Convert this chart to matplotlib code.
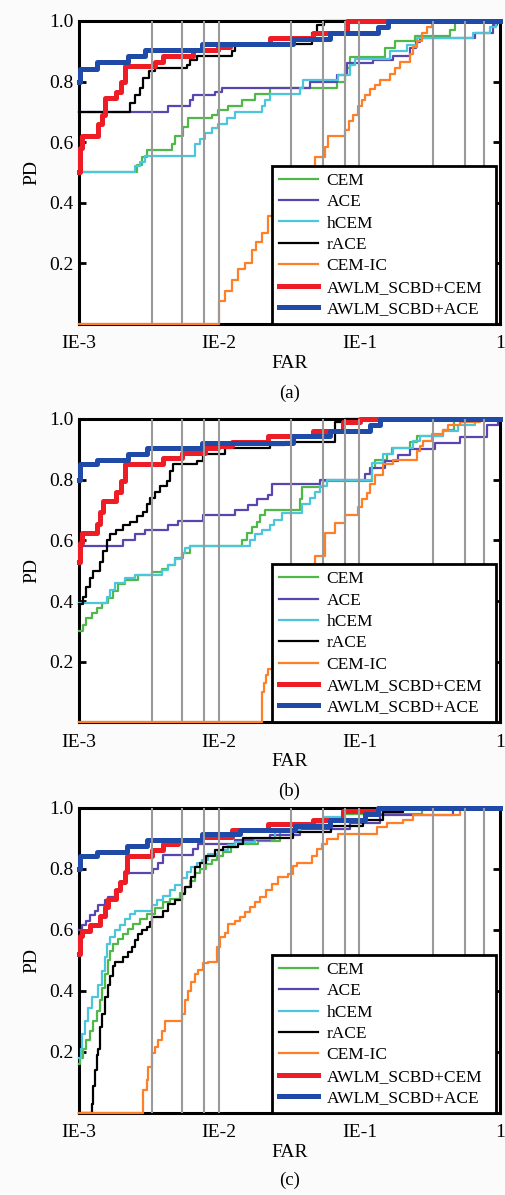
import matplotlib
matplotlib.use('Agg')
import matplotlib.pyplot as plt
from matplotlib.ticker import NullLocator

# ---- panel (a) ----
A_CEM_FAR = [1e-3, 2.58e-3, 2.8e-3, 3.04e-3, 4.57e-3, 4.83e-3, 5.54e-3, 6.01e-3, 8.81e-3, 9.84e-3, 0.0115, 0.0145,
             0.018, 0.023, 0.069, 0.079, 0.085, 0.152, 0.178, 0.249, 0.44, 0.48, 1.0]
A_CEM_PD = [0.50, 0.525, 0.55, 0.575, 0.595, 0.62, 0.65, 0.68, 0.69, 0.705, 0.72, 0.74, 0.76, 0.78, 0.80, 0.845,
            0.88, 0.91, 0.935, 0.95, 0.97, 1.0, 1.0]
A_ACE_FAR = [1e-3, 4.33e-3, 6.18e-3, 6.53e-3, 9.3e-3, 0.0104, 0.0443, 0.069, 0.081, 0.124, 0.173, 0.229, 0.252,
             0.27, 0.665, 0.893, 0.95, 1.0]
A_ACE_PD = [0.70, 0.72, 0.74, 0.755, 0.765, 0.78, 0.80, 0.82, 0.86, 0.87, 0.885, 0.91, 0.93, 0.945, 0.96, 0.985,
            1.0, 1.0]
A_HCEM_FAR = [1e-3, 2.51e-3, 2.72e-3, 2.95e-3, 6.71e-3, 7.3e-3, 7.91e-3, 8.81e-3, 9.84e-3, 0.01135, 0.0129, 0.0202,
              0.0211, 0.023, 0.0376, 0.0396, 0.0702, 0.085, 0.0925, 0.165, 0.218, 0.256, 0.643, 0.85, 0.93, 1.0]
A_HCEM_PD = [0.50, 0.52, 0.535, 0.555, 0.595, 0.61, 0.63, 0.645, 0.66, 0.68, 0.70, 0.72, 0.74, 0.76, 0.78, 0.805,
             0.82, 0.855, 0.875, 0.90, 0.92, 0.945, 0.96, 0.98, 1.0, 1.0]
A_RACE_FAR = [1e-3, 2.31e-3, 2.51e-3, 2.72e-3, 2.88e-3, 3.16e-3, 3.48e-3, 5.85e-3, 6.18e-3, 6.89e-3, 0.01225, 0.013,
              0.0457, 0.050, 0.056, 1.0]
A_RACE_PD = [0.70, 0.73, 0.755, 0.78, 0.81, 0.835, 0.845, 0.855, 0.87, 0.885, 0.90, 0.925, 0.96, 0.985, 1.0, 1.0]
A_CEMIC_FAR = [1e-3, 0.01, 0.011, 0.0123, 0.0137, 0.0152, 0.017, 0.0184, 0.020, 0.0224, 0.026, 0.032, 0.040, 0.048,
               0.0566, 0.0595, 0.0786, 0.084, 0.0895, 0.097, 0.104, 0.109, 0.118, 0.128, 0.139, 0.164, 0.178, 0.193,
               0.228, 0.24, 0.256, 0.278, 0.30, 0.33, 1.0]
A_CEMIC_PD = [0.0, 0.075, 0.11, 0.145, 0.18, 0.20, 0.245, 0.27, 0.30, 0.355, 0.40, 0.46, 0.51, 0.55, 0.585, 0.62,
              0.64, 0.67, 0.69, 0.72, 0.74, 0.757, 0.775, 0.79, 0.805, 0.825, 0.845, 0.865, 0.89, 0.915, 0.935, 0.96,
              0.98, 1.0, 1.0]
A_SCBD_CEM_FAR = [1e-3, 1.02e-3, 1.045e-3, 1.37e-3, 1.45e-3, 1.53e-3, 1.85e-3, 2.01e-3, 2.13e-3, 3.48e-3, 3.99e-3,
                  6.53e-3, 9.8e-3, 0.0119, 0.023, 0.0466, 0.0813, 1.0]
A_SCBD_CEM_PD = [0.50, 0.58, 0.62, 0.66, 0.69, 0.745, 0.765, 0.80, 0.85, 0.865, 0.885, 0.905, 0.915, 0.925, 0.945,
                 0.96, 1.0, 1.0]
A_SCBD_ACE_FAR = [1e-3, 1.01e-3, 1.34e-3, 2.25e-3, 2.95e-3, 7.5e-3, 0.0335, 0.0615, 0.135, 0.159, 1.0]
A_SCBD_ACE_PD = [0.80, 0.84, 0.865, 0.885, 0.905, 0.925, 0.94, 0.96, 0.98, 1.0, 1.0]

# ---- panel (b) ----
B_CEM_FAR = [1e-3, 1.074e-3, 1.13e-3, 1.23e-3, 1.34e-3, 1.45e-3, 1.62e-3, 1.76e-3, 1.91e-3, 2.13e-3, 2.65e-3,
             3.29e-3, 3.88e-3, 4.33e-3, 4.83e-3, 5.54e-3, 6.18e-3, 0.01443, 0.01566, 0.0170, 0.01846, 0.0195, 0.0212,
             0.0376, 0.0388, 0.0548, 0.1225, 0.128, 0.157, 0.17, 0.229, 0.256, 0.392, 0.47, 1.0]
B_CEM_PD = [0.30, 0.32, 0.345, 0.36, 0.377, 0.393, 0.41, 0.432, 0.455, 0.47, 0.487, 0.495, 0.505, 0.52, 0.542, 0.558,
            0.58, 0.60, 0.625, 0.645, 0.66, 0.685, 0.70, 0.735, 0.775, 0.795, 0.84, 0.865, 0.885, 0.905, 0.925,
            0.945, 0.965, 1.0, 1.0]
B_ACE_FAR = [1e-3, 2.07e-3, 2.51e-3, 2.95e-3, 4.33e-3, 5.1e-3, 7.69e-3, 0.01294, 0.0161, 0.01846, 0.0224, 0.0236,
             0.0522, 0.109, 0.118, 0.152, 0.188, 0.229, 0.344, 0.52, 0.81, 0.97, 1.0]
B_ACE_PD = [0.58, 0.60, 0.62, 0.635, 0.652, 0.663, 0.685, 0.70, 0.718, 0.735, 0.75, 0.785, 0.80, 0.82, 0.84, 0.86,
            0.88, 0.90, 0.92, 0.94, 0.98, 1.0, 1.0]
B_HCEM_FAR = [1e-3, 1.575e-3, 1.66e-3, 1.80e-3, 2.13e-3, 2.51e-3, 3.88e-3, 4.33e-3, 4.83e-3, 5.39e-3, 5.69e-3,
              6.18e-3, 0.01655, 0.0179, 0.020, 0.0229, 0.0247, 0.0278, 0.0388, 0.0443, 0.048, 0.052, 0.0585, 0.1225,
              0.147, 0.173, 0.24, 0.27, 0.392, 0.50, 0.66, 1.0]
B_HCEM_PD = [0.395, 0.415, 0.437, 0.46, 0.476, 0.487, 0.503, 0.52, 0.54, 0.558, 0.575, 0.58, 0.60, 0.62, 0.635,
             0.652, 0.668, 0.69, 0.72, 0.74, 0.76, 0.78, 0.80, 0.855, 0.883, 0.905, 0.927, 0.943, 0.96, 0.98, 1.0, 1.0]
B_RACE_FAR = [1e-3, 1.074e-3, 1.13e-3, 1.20e-3, 1.265e-3, 1.41e-3, 1.49e-3, 1.575e-3, 1.66e-3, 1.85e-3, 2.07e-3,
              2.31e-3, 2.58e-3, 2.88e-3, 3.04e-3, 3.21e-3, 3.48e-3, 3.78e-3, 4.21e-3, 4.45e-3, 4.7e-3, 6.89e-3,
              7.69e-3, 0.0109, 0.023, 0.0293, 0.0668, 0.0787, 1.0]
B_RACE_PD = [0.39, 0.415, 0.445, 0.475, 0.50, 0.53, 0.565, 0.60, 0.62, 0.635, 0.65, 0.66, 0.68, 0.695, 0.72, 0.74,
             0.76, 0.78, 0.795, 0.83, 0.85, 0.86, 0.885, 0.905, 0.915, 0.925, 0.99, 1.0, 1.0]
B_CEMIC_FAR = [1e-3, 0.0202, 0.0208, 0.0215, 0.0222, 0.026, 0.032, 0.040, 0.048, 0.0566, 0.0665, 0.0786, 0.097,
               0.104, 0.112, 0.118, 0.128, 0.147, 0.173, 0.256, 0.27, 0.283, 0.33, 0.392, 0.425, 0.52, 0.72, 1.0]
B_CEMIC_PD = [0.0, 0.10, 0.13, 0.155, 0.175, 0.25, 0.35, 0.45, 0.55, 0.625, 0.657, 0.685, 0.71, 0.735, 0.757, 0.785,
              0.817, 0.85, 0.866, 0.894, 0.91, 0.927, 0.95, 0.965, 0.98, 0.99, 1.0, 1.0]
B_SCBD_CEM_FAR = [1e-3, 1.02e-3, 1.045e-3, 1.34e-3, 1.41e-3, 1.49e-3, 1.85e-3, 2.01e-3, 2.13e-3, 3.99e-3, 5.39e-3,
                  7.91e-3, 9.84e-3, 0.0123, 0.0222, 0.0466, 0.0762, 0.1, 1.0]
B_SCBD_CEM_PD = [0.53, 0.59, 0.625, 0.655, 0.695, 0.73, 0.76, 0.795, 0.85, 0.87, 0.888, 0.905, 0.91, 0.925, 0.945,
                 0.962, 0.99, 1.0, 1.0]
B_SCBD_ACE_FAR = [1e-3, 1.01e-3, 1.34e-3, 2.25e-3, 3.04e-3, 7.5e-3, 0.0335, 0.0615, 0.118, 0.139, 1.0]
B_SCBD_ACE_PD = [0.80, 0.85, 0.866, 0.885, 0.903, 0.92, 0.943, 0.96, 0.98, 1.0, 1.0]

# ---- panel (c) ----
C_CEM_FAR = [1e-3, 1.016e-3, 1.074e-3, 1.13e-3, 1.2e-3, 1.265e-3, 1.34e-3, 1.41e-3, 1.45e-3, 1.53e-3, 1.62e-3,
             1.66e-3, 1.76e-3, 1.91e-3, 2.07e-3, 2.25e-3, 2.44e-3, 2.72e-3, 3.04e-3, 3.48e-3, 3.99e-3, 4.45e-3,
             5.24e-3, 5.69e-3, 6.18e-3, 6.71e-3, 7.3e-3, 8.1e-3, 8.81e-3, 9.59e-3, 0.0107, 0.0122, 0.0137, 0.0189,
             0.027, 0.0376, 0.052, 0.079, 0.28, 1.0]
C_CEM_PD = [0.16, 0.18, 0.21, 0.24, 0.27, 0.30, 0.335, 0.37, 0.41, 0.455, 0.50, 0.53, 0.555, 0.57, 0.587, 0.603,
            0.62, 0.636, 0.653, 0.67, 0.69, 0.70, 0.72, 0.74, 0.76, 0.785, 0.80, 0.815, 0.827, 0.84, 0.855, 0.87,
            0.88, 0.89, 0.92, 0.94, 0.96, 0.98, 1.0, 1.0]
C_ACE_FAR = [1e-3, 1.045e-3, 1.13e-3, 1.2e-3, 1.3e-3, 1.37e-3, 1.53e-3, 1.62e-3, 1.80e-3, 1.96e-3, 2.13e-3, 3.39e-3,
             3.68e-3, 3.99e-3, 6.53e-3, 7.1e-3, 0.0129, 0.023, 0.0376, 0.0856, 0.139, 0.46, 1.0]
C_ACE_PD = [0.60, 0.615, 0.63, 0.647, 0.663, 0.68, 0.696, 0.707, 0.73, 0.75, 0.785, 0.80, 0.82, 0.845, 0.865, 0.88,
            0.895, 0.91, 0.93, 0.95, 0.975, 1.0, 1.0]
C_HCEM_FAR = [1e-3, 1.033e-3, 1.056e-3, 1.10e-3, 1.165e-3, 1.23e-3, 1.37e-3, 1.45e-3, 1.53e-3, 1.575e-3, 1.66e-3,
              1.80e-3, 1.96e-3, 2.13e-3, 2.31e-3, 2.51e-3, 3.29e-3, 3.58e-3, 3.99e-3, 4.45e-3, 4.83e-3, 5.39e-3,
              5.85e-3, 6.34e-3, 6.89e-3, 7.5e-3, 8.36e-3, 9.84e-3, 0.0116, 0.0129, 0.0179, 0.025, 0.0376, 0.055,
              0.075, 0.165, 1.0]
C_HCEM_PD = [0.18, 0.21, 0.26, 0.30, 0.345, 0.38, 0.42, 0.465, 0.51, 0.555, 0.575, 0.60, 0.615, 0.635, 0.653, 0.663,
             0.68, 0.696, 0.712, 0.73, 0.745, 0.768, 0.79, 0.805, 0.82, 0.83, 0.848, 0.86, 0.876, 0.887, 0.898,
             0.925, 0.945, 0.97, 0.99, 1.0, 1.0]
C_RACE_FAR = [1e-3, 1.23e-3, 1.265e-3, 1.3e-3, 1.34e-3, 1.37e-3, 1.41e-3, 1.45e-3, 1.53e-3, 1.62e-3, 1.66e-3,
              1.76e-3, 1.80e-3, 2.07e-3, 2.25e-3, 2.37e-3, 2.51e-3, 2.65e-3, 2.8e-3, 3.04e-3, 3.21e-3, 3.29e-3,
              3.99e-3, 4.33e-3, 4.83e-3, 5.39e-3, 5.69e-3, 6.34e-3, 6.71e-3, 7.3e-3, 8.1e-3, 9.3e-3, 0.0107, 0.0137,
              0.0148, 0.0335, 0.063, 0.106, 0.147, 0.204, 1.0]
C_RACE_PD = [0.0, 0.03, 0.09, 0.14, 0.19, 0.21, 0.28, 0.325, 0.38, 0.42, 0.45, 0.48, 0.495, 0.51, 0.527, 0.543,
             0.565, 0.587, 0.598, 0.61, 0.625, 0.642, 0.663, 0.685, 0.696, 0.718, 0.74, 0.772, 0.805, 0.82, 0.843,
             0.86, 0.87, 0.88, 0.90, 0.92, 0.94, 0.96, 0.985, 1.0, 1.0]
C_CEMIC_FAR = [1e-3, 2.88e-3, 3.04e-3, 3.12e-3, 3.29e-3, 3.48e-3, 3.68e-3, 3.88e-3, 4.1e-3, 5.39e-3, 5.69e-3,
               6.01e-3, 6.34e-3, 6.71e-3, 7.1e-3, 7.69e-3, 8.36e-3, 9.59e-3, 0.0101, 0.01096, 0.0116, 0.0129, 0.0140,
               0.0152, 0.01655, 0.0179, 0.0195, 0.0217, 0.0236, 0.0263, 0.0310, 0.0335, 0.0357, 0.0455, 0.0496,
               0.054, 0.0585, 0.070, 0.133, 0.157, 0.204, 0.24, 0.52, 1.0]
C_CEMIC_PD = [0.0, 0.075, 0.107, 0.15, 0.195, 0.216, 0.238, 0.27, 0.30, 0.325, 0.37, 0.40, 0.43, 0.456, 0.467, 0.49,
              0.495, 0.543, 0.576, 0.59, 0.62, 0.63, 0.642, 0.658, 0.674, 0.69, 0.707, 0.73, 0.75, 0.772, 0.784,
              0.81, 0.82, 0.843, 0.865, 0.88, 0.898, 0.915, 0.935, 0.95, 0.96, 0.975, 1.0, 1.0]
C_SCBD_CEM_FAR = [1e-3, 1.02e-3, 1.045e-3, 1.2e-3, 1.41e-3, 1.53e-3, 1.62e-3, 1.85e-3, 1.96e-3, 2.13e-3, 2.19e-3,
                  3.29e-3, 3.99e-3, 5.1e-3, 7.5e-3, 0.0123, 0.0222, 0.0466, 0.0762, 0.135, 1.0]
C_SCBD_CEM_PD = [0.52, 0.58, 0.595, 0.615, 0.645, 0.675, 0.70, 0.73, 0.755, 0.79, 0.84, 0.86, 0.88, 0.893, 0.905,
                 0.925, 0.945, 0.96, 0.99, 1.0, 1.0]
C_SCBD_ACE_FAR = [1e-3, 1.02e-3, 1.34e-3, 2.19e-3, 3.04e-3, 7.5e-3, 0.01405, 0.0347, 0.0615, 0.109, 0.135, 1.0]
C_SCBD_ACE_PD = [0.80, 0.84, 0.855, 0.875, 0.895, 0.915, 0.925, 0.94, 0.96, 0.98, 1.0, 1.0]

LABELS = ['CEM', 'ACE', 'hCEM', 'rACE', 'CEM-IC', 'AWLM_SCBD+CEM', 'AWLM_SCBD+ACE']
COLORS = ['#4fb848', '#5a44b0', '#4cc6dc', '#000000', '#ff7f27', '#ee1c25', '#1f4aa8']
WIDTHS = [1.6, 1.6, 1.6, 1.6, 1.6, 3.6, 3.6]

# grey vertical reference lines
GRID_FAR = [3.33e-3, 5.45e-3, 7.8e-3, 1.0e-2, 0.0324, 0.0548, 0.0787, 0.099, 0.333, 0.563, 0.77]

XTICKS = [1e-3, 1e-2, 1e-1, 1]
XTICK_LABELS = ['IE-3', 'IE-2', 'IE-1', '1']
YTICKS = [0.2, 0.4, 0.6, 0.8, 1.0]

panels = [
    ('(a)', [(A_CEM_FAR, A_CEM_PD), (A_ACE_FAR, A_ACE_PD), (A_HCEM_FAR, A_HCEM_PD), (A_RACE_FAR, A_RACE_PD),
             (A_CEMIC_FAR, A_CEMIC_PD), (A_SCBD_CEM_FAR, A_SCBD_CEM_PD), (A_SCBD_ACE_FAR, A_SCBD_ACE_PD)]),
    ('(b)', [(B_CEM_FAR, B_CEM_PD), (B_ACE_FAR, B_ACE_PD), (B_HCEM_FAR, B_HCEM_PD), (B_RACE_FAR, B_RACE_PD),
             (B_CEMIC_FAR, B_CEMIC_PD), (B_SCBD_CEM_FAR, B_SCBD_CEM_PD), (B_SCBD_ACE_FAR, B_SCBD_ACE_PD)]),
    ('(c)', [(C_CEM_FAR, C_CEM_PD), (C_ACE_FAR, C_ACE_PD), (C_HCEM_FAR, C_HCEM_PD), (C_RACE_FAR, C_RACE_PD),
             (C_CEMIC_FAR, C_CEMIC_PD), (C_SCBD_CEM_FAR, C_SCBD_CEM_PD), (C_SCBD_ACE_FAR, C_SCBD_ACE_PD)]),
]

plt.rcParams['font.family'] = ['Liberation Serif', 'DejaVu Serif']

fig = plt.figure(figsize=(5.06, 11.95), dpi=100)
fig.patch.set_facecolor('#fbfbfb')

rects = [[0.156, 0.7289, 0.832, 0.2536],
         [0.156, 0.3954, 0.832, 0.2540],
         [0.156, 0.0686, 0.832, 0.2556]]
caption_y = [0.671, 0.338, 0.0126]

for (tag, curves), rect, cy in zip(panels, rects, caption_y):
    ax = fig.add_axes(rect)
    ax.set_facecolor('white')
    ax.set_xscale('log')
    ax.set_xlim(1e-3, 1)
    ax.set_ylim(0, 1)

    for (far, pd), lab, col, lw in zip(curves, LABELS, COLORS, WIDTHS):
        ax.step(far, pd, where='post', color=col, lw=lw, label=lab, zorder=2.6, clip_on=False)

    for gx in GRID_FAR:
        ax.axvline(gx, color='#9a9a9a', lw=1.5, zorder=3)

    ax.set_xticks(XTICKS)
    ax.set_xticklabels(XTICK_LABELS)
    ax.xaxis.set_minor_locator(NullLocator())
    ax.set_yticks(YTICKS)
    ax.set_yticklabels(['%.1f' % v for v in YTICKS])
    ax.tick_params(axis='y', direction='in', length=5, width=2, right=True, labelsize=14, pad=4)
    ax.tick_params(axis='x', length=0, labelsize=14, pad=8)
    for sp in ax.spines.values():
        sp.set_linewidth(2.2)

    ax.set_xlabel('FAR', fontsize=14, labelpad=2)
    ax.set_ylabel('PD', fontsize=14, labelpad=6)

    leg = ax.legend(loc='lower left', bbox_to_anchor=(0.458, 0.0, 0.532, 0.552), mode='expand',
                    borderaxespad=0, fontsize=12.5, handlelength=2.25, handletextpad=0.5,
                    labelspacing=0.3, borderpad=0.4, fancybox=False, framealpha=1, edgecolor='black')
    leg.get_frame().set_linewidth(2)
    leg.set_zorder(5)

    fig.text(0.572, cy, tag, ha='center', va='center', fontsize=13.5)

fig.savefig('out.png', dpi=100, facecolor=fig.get_facecolor())
